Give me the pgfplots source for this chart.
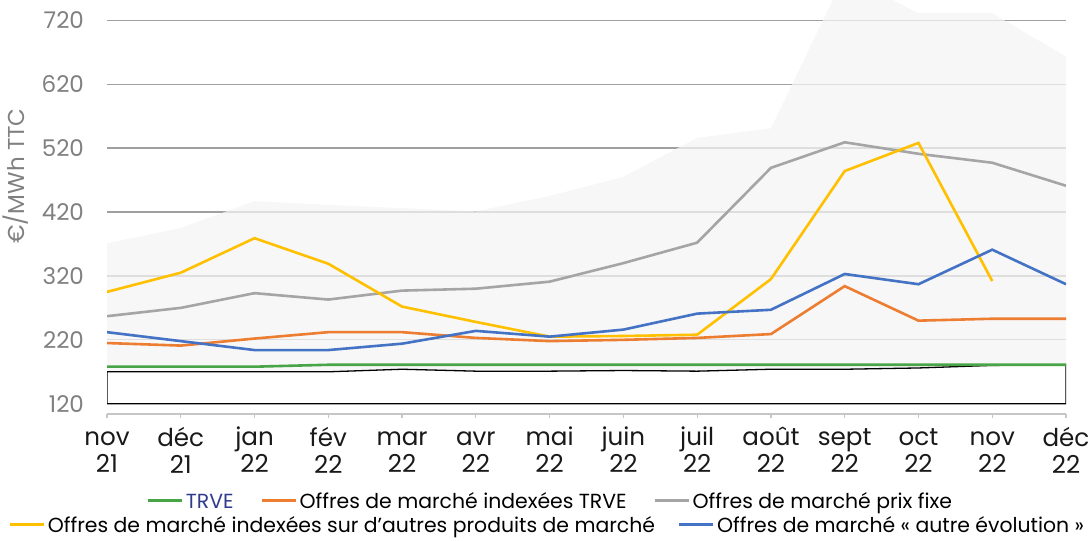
\documentclass[border=0pt]{standalone}
\usepackage{pgfplots}
\pgfplotsset{compat=1.18}
\usepackage{fontspec}
\setmainfont{Poppins}
\definecolor{cTrve}{HTML}{47A447}
\definecolor{cIdx}{HTML}{ED7D31}
\definecolor{cFixe}{HTML}{A5A5A5}
\definecolor{cAutre}{HTML}{FFC000}
\definecolor{cEvol}{HTML}{4472C4}
\definecolor{cBand}{HTML}{F4F4F4}
\definecolor{cGrid}{HTML}{A0A0A0}
\definecolor{cTick}{HTML}{808080}
\definecolor{cNavy}{HTML}{2F3C8C}
\newcommand\ml[2]{\strut#1\\#2}
\begin{document}
\begin{tikzpicture}
\begin{axis}[
    at={(53.5pt,63pt)}, anchor=south west,
    scale only axis,
    width=479.5pt, height=206.5pt,
    xmin=0, xmax=13,
    ymin=104, ymax=750,
    axis x line=bottom, axis y line=left,
    x axis line style={-, draw=cGrid!60, line width=0.65pt},
    y axis line style={draw=none},
    xtick={0,...,13},
    xticklabels={\ml{nov}{21},\ml{déc}{21},\ml{jan}{22},\ml{fév}{22},\ml{mar}{22},\ml{avr}{22},\ml{mai}{22},\ml{juin}{22},\ml{juil}{22},\ml{août}{22},\ml{sept}{22},\ml{oct}{22},\ml{nov}{22},\ml{déc}{22}},
    xticklabel style={align=center, font=\fontsize{12.3}{13.5}\selectfont, text=black!90, yshift=-1pt},
    x tick style={draw=cGrid!60, line width=0.6pt},
    major tick length=2pt,
    tick align=outside,
    ytick={120,220,...,720},
    yticklabel style={font=\fontsize{11.5}{12}\selectfont, text=cTick, xshift=-6pt},
    /pgf/number format/assume math mode=true,
    ymajorgrids, grid style={cGrid, line width=0.6pt},
    y tick style={draw=none},
    clip=true,
]
% range of offers (max, then min backwards)
\addplot[fill=cBand, draw=none, fill opacity=0.75] coordinates {
    (0,371) (1,395) (2,437) (3,431) (4,426) (5,421) (6,445)
    (7,475) (8,536) (9,551) (10,790) (11,731) (12,731) (13,663)
    (13,181) (12,180) (11,176) (10,174) (9,174) (8,171) (7,172)
    (6,171) (5,171) (4,174) (3,170) (2,170) (1,170) (0,170)
} -- cycle;
% lower box
\addplot[fill=white, draw=black, line width=0.65pt] coordinates {
    (0,120) (0,170) (1,170) (2,170) (3,170) (4,174) (5,171) (6,171)
    (7,172) (8,171) (9,174) (10,174) (11,176) (12,180) (13,181) (13,120)
} -- cycle;
% TRVE
\addplot[cTrve, line width=1.3pt] coordinates {
    (0,178) (1,178) (2,178) (3,181) (4,181) (5,181) (6,181)
    (7,181) (8,181) (9,181) (10,181) (11,181) (12,181) (13,181)
};
% indexees TRVE
\addplot[cIdx, line width=1.3pt] coordinates {
    (0,215) (1,211) (2,222) (3,232) (4,232) (5,223) (6,218)
    (7,220) (8,223) (9,229) (10,304) (11,250) (12,253) (13,253)
};
% prix fixe
\addplot[cFixe, line width=1.3pt] coordinates {
    (0,257) (1,270) (2,293) (3,283) (4,297) (5,300) (6,311)
    (7,340) (8,372) (9,489) (10,529) (11,511) (12,497) (13,461)
};
% autres produits
\addplot[cAutre, line width=1.3pt] coordinates {
    (0,295) (1,325) (2,379) (3,339) (4,272) (5,248) (6,225)
    (7,226) (8,228) (9,315) (10,484) (11,528) (12,312)
};
% autre evolution
\addplot[cEvol, line width=1.3pt] coordinates {
    (0,232) (1,218) (2,204) (3,204) (4,214) (5,234) (6,225)
    (7,236) (8,261) (9,267) (10,323) (11,307) (12,361) (13,307)
};
\end{axis}
\node[rotate=90, text=cTick, font=\fontsize{11.5}{12}\selectfont] at (8pt,182pt) {€/MWh TTC};
\node[font=\fontsize{10.2}{12}\selectfont, anchor=base] at (275pt,16pt) {%
  \textcolor{cTrve}{\rule[0.55ex]{17pt}{1.2pt}}\hspace{2pt}\textcolor{cNavy}{TRVE}\hspace{14pt}%
  \textcolor{cIdx}{\rule[0.55ex]{17pt}{1.2pt}}\hspace{2pt}Offres de marché indexées TRVE\hspace{14pt}%
  \textcolor{cFixe}{\rule[0.55ex]{17pt}{1.2pt}}\hspace{2pt}Offres de marché prix fixe};
\node[font=\fontsize{10.2}{12}\selectfont, anchor=base] at (273.5pt,4pt) {%
  \textcolor{cAutre}{\rule[0.55ex]{17pt}{1.2pt}}\hspace{2pt}Offres de marché indexées sur d’autres produits de marché\hspace{12pt}%
  \textcolor{cEvol}{\rule[0.55ex]{17pt}{1.2pt}}\hspace{2pt}Offres de marché «~autre évolution~»};
\pgfresetboundingbox
\path (0,0) rectangle (545pt,270pt);
\end{tikzpicture}
\end{document}
